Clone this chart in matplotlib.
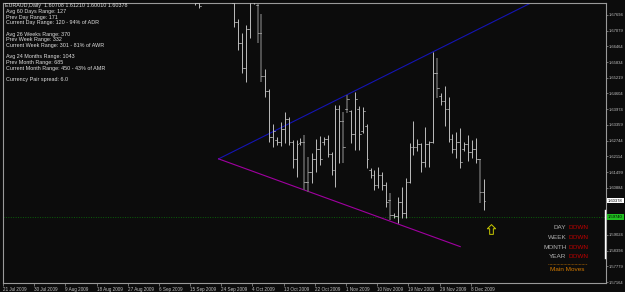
import matplotlib
matplotlib.use("Agg")
import matplotlib.pyplot as plt
from matplotlib.path import Path
import numpy as np

# ---------------- data ----------------
symbol_header = "EURAUD,Daily  1.60708 1.61210 1.60010 1.60378"
info_lines = [
    "Avg 60 Days Range: 127",
    "Prev Day Range: 171",
    "Current Day Range: 120 - 94% of ADR",
    "",
    "Avg 26 Weeks Range: 370",
    "Prev Week Range: 332",
    "Current Week Range: 301 - 81% of AWR",
    "",
    "Avg 24 Months Range: 1043",
    "Prev Month Range: 685",
    "Current Month Range: 450 - 43% of AMR",
    "",
    "Currency Pair spread: 6.0",
]

date_labels = ["21 Jul 2009", "30 Jul 2009", "9 Aug 2009", "18 Aug 2009", "27 Aug 2009",
               "6 Sep 2009", "15 Sep 2009", "24 Sep 2009", "4 Oct 2009", "13 Oct 2009",
               "22 Oct 2009", "1 Nov 2009", "10 Nov 2009", "19 Nov 2009", "29 Nov 2009",
               "8 Dec 2009"]
bars_per_label = 8

price_ticks = [1.67694, 1.67079, 1.66464, 1.65834, 1.65219, 1.64604, 1.63974, 1.63359,
               1.62744, 1.62114, 1.61499, 1.60884, 1.59024, 1.58394, 1.57779, 1.57164]

# bar index (from 21 Jul 2009), high, low, open, close
bar_index = [49, 50, 59, 60, 61, 62, 63, 64, 65, 66, 67, 68, 69, 70, 71, 72, 73, 74, 75, 76,
             77, 78, 79, 80, 81, 82, 83, 84, 85, 86, 87, 88, 89, 90, 91, 92, 93, 94, 95, 96,
             97, 98, 99, 100, 101, 102, 103, 104, 105, 106, 107, 108, 109, 110, 111, 112, 113,
             114, 115, 116, 117, 118, 119, 120, 121, 122, 123]
bar_high = [1.6850, 1.6830, 1.6830, 1.6754, 1.6698, 1.6730, 1.6840, 1.6850, 1.6813, 1.6773,
            1.6556, 1.6478, 1.6340, 1.6288, 1.6347, 1.6387, 1.6367, 1.6276, 1.6276, 1.6284,
            1.6296, 1.6209, 1.6225, 1.6280, 1.6292, 1.6288, 1.6296, 1.6229, 1.6414, 1.6414,
            1.6387, 1.6454, 1.6395, 1.6466, 1.6411, 1.6407, 1.6340, 1.6166, 1.6158, 1.6170,
            1.6150, 1.6111, 1.6067, 1.5989, 1.6052, 1.6091, 1.6127, 1.6265, 1.6351, 1.6280,
            1.6265, 1.6328, 1.6272, 1.6624, 1.6600, 1.6462, 1.6489, 1.6446, 1.6300, 1.6308,
            1.6324, 1.6269, 1.6296, 1.6276, 1.6284, 1.6202, 1.6121]
bar_low = [1.6809, 1.6797, 1.6722, 1.6631, 1.6541, 1.6505, 1.6679, 1.6813, 1.6659, 1.6505,
           1.6446, 1.6269, 1.6249, 1.6257, 1.6253, 1.6265, 1.6257, 1.6166, 1.6131, 1.6257,
           1.6079, 1.6071, 1.6107, 1.6150, 1.6178, 1.6257, 1.6209, 1.6138, 1.6091, 1.6186,
           1.6186, 1.6383, 1.6265, 1.6237, 1.6237, 1.6304, 1.6166, 1.6127, 1.6079, 1.6087,
           1.6079, 1.6012, 1.5961, 1.5969, 1.5949, 1.5969, 1.5969, 1.6107, 1.6217, 1.6233,
           1.6150, 1.6170, 1.6170, 1.6265, 1.6442, 1.6414, 1.6332, 1.6269, 1.6225, 1.6205,
           1.6166, 1.6233, 1.6194, 1.6205, 1.6186, 1.6028, 1.6001]
bar_open = [1.6840, 1.6815, 1.6815, 1.6743, 1.6660, 1.6560, 1.6715, 1.6830, 1.6810, 1.6700,
            1.6530, 1.6470, 1.6290, 1.6275, 1.6268, 1.6320, 1.6360, 1.6270, 1.6200, 1.6265,
            1.6270, 1.6110, 1.6150, 1.6200, 1.6240, 1.6270, 1.6280, 1.6220, 1.6160, 1.6400,
            1.6350, 1.6400, 1.6390, 1.6300, 1.6400, 1.6310, 1.6330, 1.6160, 1.6140, 1.6100,
            1.6140, 1.6100, 1.6040, 1.5980, 1.5975, 1.6030, 1.5990, 1.6110, 1.6250, 1.6250,
            1.6260, 1.6190, 1.6260, 1.6268, 1.6540, 1.6450, 1.6430, 1.6400, 1.6280, 1.6240,
            1.6270, 1.6240, 1.6260, 1.6230, 1.6240, 1.6200, 1.60708]
bar_close = [1.6815, 1.6805, 1.6743, 1.6660, 1.6560, 1.6715, 1.6830, 1.6820, 1.6700, 1.6530,
             1.6470, 1.6290, 1.6310, 1.6268, 1.6320, 1.6360, 1.6270, 1.6200, 1.6260, 1.6270,
             1.6110, 1.6150, 1.6200, 1.6240, 1.6200, 1.6280, 1.6220, 1.6160, 1.6400, 1.6350,
             1.6250, 1.6440, 1.6300, 1.6440, 1.6300, 1.6390, 1.6200, 1.6140, 1.6100, 1.6140,
             1.6100, 1.6030, 1.5980, 1.5975, 1.6030, 1.5990, 1.6110, 1.6250, 1.6250, 1.6260,
             1.6190, 1.6260, 1.6268, 1.6540, 1.6480, 1.6430, 1.6400, 1.6280, 1.6240, 1.6270,
             1.6190, 1.6260, 1.6230, 1.6240, 1.6200, 1.6071, 1.60378]
# bars drawn in the darker shade in the reference
dark_bars = [65, 66, 77, 78, 87, 88, 99, 111, 122]

# trend lines: (bar index, price) anchors
upper_trend = [(55, 1.6202), (110, 1.6624)]
lower_trend = [(55, 1.6202), (117, 1.5856)]
support_level = 1.5974
current_price = 1.60378
signal_bar, signal_price = 124.8, 1.5924
marker_range = (1.6000, 1.5811)

status_rows = ["DAY", "WEEK", "MONTH", "YEAR"]
status_vals = ["DOWN", "DOWN", "DOWN", "DOWN"]

# ---------------- drawing ----------------
W, H = 625, 292
BG = "#0c0c0c"
FONT = "Liberation Sans"
fig = plt.figure(figsize=(W / 100, H / 100), dpi=100, facecolor=BG)
L, R, T, B = 3, 606, 3, 283
ax = fig.add_axes([L / W, (H - B) / H, (R - L) / W, (B - T) / H], facecolor=BG)

xmin, xmax = -0.26, 154.4
ymin, ymax = 1.57125, 1.68167
ax.set_xlim(xmin, xmax)
ax.set_ylim(ymin, ymax)

light_col = "#bdbdbd"
dark_col = "#5e5e5e"
tick_half = 0.45
for i, h, l, o, c in zip(bar_index, bar_high, bar_low, bar_open, bar_close):
    col = dark_col if i in dark_bars else light_col
    lw = 1.2 if i in dark_bars else 0.7
    ax.plot([i, i], [l, h], color=col, lw=lw, solid_capstyle="butt", zorder=3)
    ax.plot([i - tick_half, i], [o, o], color=light_col, lw=0.5, zorder=3)
    ax.plot([i, i + tick_half], [c, c], color=light_col, lw=0.5, zorder=3)

# trend lines
(x0, y0), (x1, y1) = upper_trend
slope = (y1 - y0) / (x1 - x0)
xe = xmax
ax.plot([x0, xe], [y0, y0 + slope * (xe - x0)], color="#1414b4", lw=0.8, zorder=2)
(x0, y0), (x1, y1) = lower_trend
ax.plot([x0, x1], [y0, y1], color="#a000a0", lw=0.8, zorder=2)

# support level (dotted green)
ax.axhline(support_level, color="#0b5e0b", lw=0.7, ls=(0, (1, 1.5)), zorder=1)

# up arrow marker (outlined block arrow)
arrow_path = Path([(0, 1), (0.85, 0.15), (0.38, 0.15), (0.38, -1), (-0.38, -1),
                   (-0.38, 0.15), (-0.85, 0.15), (0, 1)],
                  [Path.MOVETO] + [Path.LINETO] * 6 + [Path.CLOSEPOLY])
ax.plot([signal_bar], [signal_price], marker=arrow_path, markersize=7, mfc="none",
        mec="#c8c800", mew=0.7, ls="none", zorder=4)

# spines
for s in ["left", "top", "right", "bottom"]:
    ax.spines[s].set_color("#9a9a9a")
    ax.spines[s].set_linewidth(0.8)

# y ticks on right
ax.yaxis.tick_right()
ax.set_yticks(price_ticks)
ax.set_yticklabels([f"{v:.5f}" for v in price_ticks], fontfamily=FONT)
ax.tick_params(axis="y", colors="#9a9a9a", labelcolor="#c0c0c0", labelsize=3.0,
               length=1.5, width=0.5, pad=0.4)

# x ticks
xt = [k * bars_per_label - 0.3 for k in range(len(date_labels))]
ax.set_xticks(xt)
ax.set_xticklabels(date_labels, ha="left", fontfamily=FONT)
ax.tick_params(axis="x", colors="#9a9a9a", labelcolor="#c0c0c0", labelsize=3.3,
               length=2, width=0.5, pad=0.8)

# price boxes
def price_box(val, fc, tc):
    ax.text(1.0035, (val - ymin) / (ymax - ymin), f"{val:.5f}", transform=ax.transAxes,
            fontsize=3.0, color=tc, ha="left", va="center", fontfamily=FONT,
            bbox=dict(boxstyle="square,pad=0.2", fc=fc, ec="none"))

price_box(current_price, "#ffffff", "#000000")
price_box(support_level, "#20c020", "#000000")

# white vertical marker on right edge
ax.plot([xmax - 0.25, xmax - 0.25], list(marker_range), color="#ffffff", lw=1.0,
        clip_on=False, zorder=5)

# header text
fig.text(5 / W, 1 - 5.5 / H, symbol_header, fontsize=3.9, color="#e0e0e0",
         va="center", ha="left", fontfamily=FONT)
for k, line in enumerate(info_lines):
    if line:
        fig.text(5.5 / W, 1 - (11.3 + 5.7 * k) / H, line, fontsize=3.9, color="#e0e0e0",
                 va="center", ha="left", fontfamily=FONT)

# status text
for k, (lab, val) in enumerate(zip(status_rows, status_vals)):
    yy = 1 - (227.5 + 9.8 * k) / H
    fig.text(566.5 / W, yy, lab, fontsize=4.6, color="#b0b0b0", ha="right", va="center",
             fontfamily=FONT)
    fig.text(568.5 / W, yy, val, fontsize=4.6, color="#c00000", ha="left", va="center",
             fontfamily=FONT)
fig.add_artist(plt.Line2D([548 / W, 587 / W], [1 - 264 / H, 1 - 264 / H],
                          color="#c07000", lw=0.5, ls=(0, (1, 1))))
fig.text(567.5 / W, 1 - 269.5 / H, "Main Moves", fontsize=4.6, color="#d07800",
         ha="center", va="center", fontfamily=FONT)

fig.savefig("out.png", dpi=100, facecolor=BG)
